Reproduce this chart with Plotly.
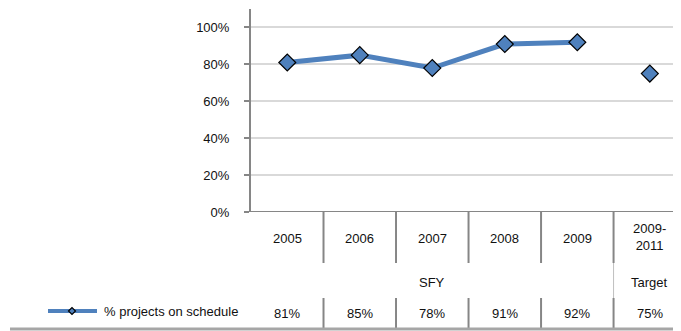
import plotly.graph_objects as go

# data table values
years = ['2005', '2006', '2007', '2008', '2009']
target_label = '2009-<br>2011'
pct_on_schedule = [81, 85, 78, 91, 92]
target_pct = 75
series_name = '% projects on schedule'
group_labels = ['SFY', 'Target']
y_ticks = [0, 20, 40, 60, 80, 100]

BLUE = '#4F81BD'
GRID = '#D9D9D9'
AXIS = '#868686'
FONT = 'Liberation Sans'

OFF = 8                       # default body margin of the html page
W, H = 681 - OFF, 331 - OFF
L, T, B = 251 - OFF, 9 - OFF, 119   # plot area margins (px)
PW, PH = W - L, H - T - B


def px(x):   # screen pixel x -> paper
    return (x - OFF - L) / PW


def py(y):   # screen pixel y -> paper
    return (H - B - (y - OFF)) / PH


fig = go.Figure()
xs = list(range(len(years)))
fig.add_trace(go.Scatter(x=xs, y=pct_on_schedule, mode='lines+markers',
                         line=dict(color=BLUE, width=5),
                         marker=dict(symbol='diamond', size=13, color=BLUE,
                                     line=dict(color='black', width=1.2)),
                         showlegend=False))
fig.add_trace(go.Scatter(x=[len(years)], y=[target_pct], mode='markers',
                         marker=dict(symbol='diamond', size=13, color=BLUE,
                                     line=dict(color='black', width=1.2)),
                         showlegend=False))

shapes = []
ann = []
n = len(years) + 1
# data table grid lines
for i in range(1, n):
    xc = i - 0.5
    shapes.append(dict(type='line', xref='x', yref='paper', x0=xc, x1=xc,
                       y0=py(212), y1=py(263), line=dict(color=AXIS, width=2)))
    shapes.append(dict(type='line', xref='x', yref='paper', x0=xc, x1=xc,
                       y0=py(298), y1=py(328), line=dict(color=AXIS, width=2)))
shapes.append(dict(type='line', xref='x', yref='paper', x0=len(years) - 0.5, x1=len(years) - 0.5,
                   y0=py(263), y1=py(298), line=dict(color='#BFBFBF', width=1)))
# bottom edge / shadow
shapes.append(dict(type='line', xref='paper', yref='paper', x0=px(10), x1=px(700),
                   y0=py(329), y1=py(329), line=dict(color='#A6A6A6', width=3)))

font = dict(family=FONT, size=13, color='#111111')


def label(x, y, text, xref='x', xanchor='center'):
    ann.append(dict(x=x, y=py(y), xref=xref, yref='paper', text=text, showarrow=False,
                    xanchor=xanchor, yanchor='middle', font=font))


for i, yr in enumerate(years):
    label(i, 238, yr)
    label(i, 313, '%d%%' % pct_on_schedule[i])
label(len(years), 237, target_label)
label(len(years), 313, '%d%%' % target_pct)
label((len(years) - 1) / 2, 282, group_labels[0])
label(len(years), 282, group_labels[1])

# legend key in the table
shapes.append(dict(type='line', xref='paper', yref='paper', x0=px(48), x1=px(97),
                   y0=py(311), y1=py(311), line=dict(color=BLUE, width=4)))
shapes.append(dict(type='path', xref='paper', yref='paper',
                   path='M %f %f L %f %f L %f %f L %f %f Z' % (
                       px(68.5), py(311), px(72), py(307.5), px(75.5), py(311), px(72), py(314.5)),
                   fillcolor=BLUE, line=dict(color='black', width=1.2)))
label(px(102), 311, series_name, xref='paper', xanchor='left')

fig.update_layout(
    width=W, height=H,
    margin=dict(l=L, r=0, t=T, b=B, pad=0),
    paper_bgcolor='white', plot_bgcolor='white',
    font=font,
    shapes=shapes, annotations=ann,
    xaxis=dict(range=[-0.5, n - 0.5 - 0.07], showgrid=False, zeroline=False,
               showticklabels=False, ticks='', showline=False, fixedrange=True),
    yaxis=dict(range=[0, 110], tickvals=y_ticks, ticktext=['%d%%' % v for v in y_ticks],
               showgrid=True, gridcolor=GRID, gridwidth=1.5, zeroline=False,
               showline=True, linecolor=AXIS, linewidth=2,
               ticks='outside', ticklen=5, tickcolor=AXIS, tickwidth=2,
               ticklabelstandoff=12, fixedrange=True),
)
# x-axis baseline
fig.add_shape(type='line', xref='paper', yref='y', x0=px(246), x1=1, y0=0, y1=0,
              line=dict(color=AXIS, width=2))

fig.write_html('out.html')
